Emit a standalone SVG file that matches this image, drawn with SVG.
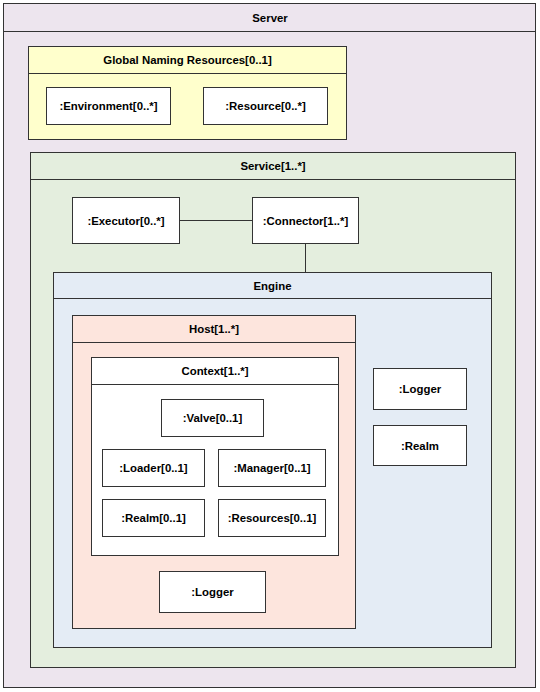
<svg xmlns="http://www.w3.org/2000/svg" width="540" height="692" viewBox="0 0 540 692">
<style>
rect{stroke:#333;stroke-width:1}
.sep{stroke:#333;stroke-width:1}
.box{fill:#fff}
text{font-family:"Liberation Sans",Arial,sans-serif;font-size:11.4px;font-weight:bold;fill:#000;text-anchor:middle;dominant-baseline:central}
.conn line{stroke:#333;stroke-width:1}
</style>
<rect width="540" height="692" fill="#fff" style="stroke:none"/>
<g id="server">
<rect x="3.5" y="3.5" width="532" height="684" fill="#ede5ee"/>
<line class="sep" x1="3.5" y1="31.5" x2="535.5" y2="31.5"/>
<text x="270" y="17.5">Server</text>
</g>
<g id="gnr">
<rect x="28.5" y="46.5" width="318" height="93" fill="#ffffcc"/>
<line class="sep" x1="28.5" y1="73.5" x2="346.5" y2="73.5"/>
<text x="187.5" y="60">Global Naming Resources[0..1]</text>
</g>
<g id="environment">
<rect class="box" x="46.5" y="87.5" width="124" height="37"/>
<text x="108.5" y="106">:Environment[0..*]</text>
</g>
<g id="resource">
<rect class="box" x="203.5" y="87.5" width="124" height="37"/>
<text x="265.5" y="106">:Resource[0..*]</text>
</g>
<g id="service">
<rect x="30.5" y="152.5" width="485" height="515" fill="#e4eede"/>
<line class="sep" x1="30.5" y1="179.5" x2="515.5" y2="179.5"/>
<text x="273" y="166">Service[1..*]</text>
</g>
<g id="executor">
<rect class="box" x="72.5" y="197.5" width="107" height="46"/>
<text x="126" y="221">:Executor[0..*]</text>
</g>
<g id="connector">
<rect class="box" x="252.5" y="197.5" width="106" height="46"/>
<text x="305.5" y="221">:Connector[1..*]</text>
</g>
<g id="engine">
<rect x="53.5" y="272.5" width="438" height="375" fill="#e4ecf5"/>
<line class="sep" x1="53.5" y1="298.5" x2="491.5" y2="298.5"/>
<text x="272.5" y="285.5">Engine</text>
</g>
<g id="host">
<rect x="72.5" y="315.5" width="283" height="313" fill="#fde5dd"/>
<line class="sep" x1="72.5" y1="342.5" x2="355.5" y2="342.5"/>
<text x="214" y="329">Host[1..*]</text>
</g>
<g id="context">
<rect class="box" x="91.5" y="357.5" width="247" height="198"/>
<line class="sep" x1="91.5" y1="384.5" x2="338.5" y2="384.5"/>
<text x="215" y="371">Context[1..*]</text>
</g>
<g id="valve">
<rect class="box" x="161.5" y="399.5" width="102" height="37"/>
<text x="212.5" y="418">:Valve[0..1]</text>
</g>
<g id="loader">
<rect class="box" x="102.5" y="449.5" width="102" height="37"/>
<text x="153.5" y="468">:Loader[0..1]</text>
</g>
<g id="manager">
<rect class="box" x="218.5" y="449.5" width="107" height="37"/>
<text x="272" y="468">:Manager[0..1]</text>
</g>
<g id="context-realm">
<rect class="box" x="102.5" y="499.5" width="102" height="37"/>
<text x="153.5" y="518">:Realm[0..1]</text>
</g>
<g id="resources">
<rect class="box" x="218.5" y="499.5" width="107" height="37"/>
<text x="272" y="518">:Resources[0..1]</text>
</g>
<g id="host-logger">
<rect class="box" x="159.5" y="571.5" width="106" height="41"/>
<text x="212.5" y="592">:Logger</text>
</g>
<g id="engine-logger">
<rect class="box" x="373.5" y="368.5" width="93" height="41"/>
<text x="420" y="389">:Logger</text>
</g>
<g id="engine-realm">
<rect class="box" x="373.5" y="425.5" width="93" height="40"/>
<text x="420" y="446">:Realm</text>
</g>
<g class="conn" id="connectors">
<line x1="179.5" y1="220.5" x2="252.5" y2="220.5"/>
<line x1="305.5" y1="243.5" x2="305.5" y2="272.5"/>
</g>
</svg>
